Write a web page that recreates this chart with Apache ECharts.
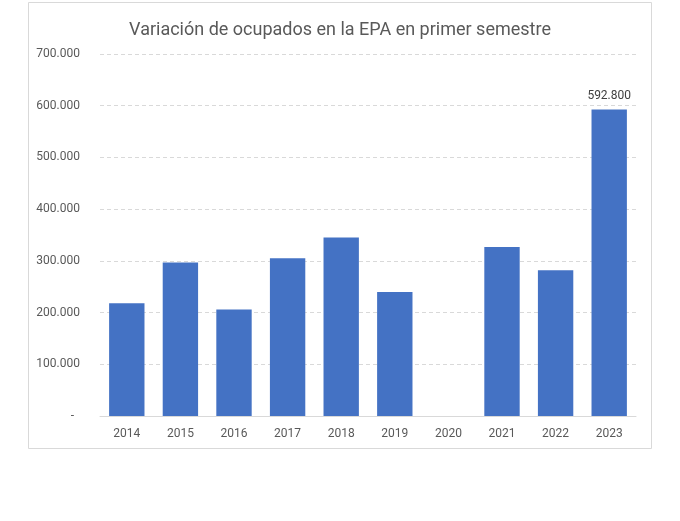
<!DOCTYPE html>
<html>
<head>
    <meta charset="utf-8">
    <title>EPA</title>
    <script src="https://cdn.jsdelivr.net/npm/echarts@6/dist/echarts.min.js"></script>
    <style>
        body { margin: 0; background: #fff; }
    </style>
</head>
<body>
    <div id="main" style="width:680px;height:521px;"></div>
    <script type="text/javascript">
var years = ['2014', '2015', '2016', '2017', '2018', '2019', '2020', '2021', '2022', '2023'];
// 2020 no aparece (fuera del eje)
var ocupados = [218000, 297000, 206000, 305000, 345000, 240000, null, 327000, 282000, 592800];
var yTicks = [0, 100000, 200000, 300000, 400000, 500000, 600000, 700000];

function fmt(v) {
    if (v === 0) return '-  ';
    return String(Math.round(v)).replace(/\B(?=(\d{3})+(?!\d))/g, '.');
}

var myChart = echarts.init(document.getElementById('main'));
var option = {
    backgroundColor: '#ffffff',
    animation: false,
    title: {
        text: 'Variación de ocupados en la EPA en primer semestre',
        left: 'center',
        top: 16,
        textStyle: {
            fontFamily: 'Roboto, sans-serif',
            fontSize: 18,
            fontWeight: 'normal',
            color: '#595959'
        }
    },
    graphic: [{
        type: 'rect',
        shape: { x: 28.5, y: 2.5, width: 623, height: 446 },
        style: { fill: 'none', stroke: '#d9d9d9', lineWidth: 1 },
        silent: true
    }],
    grid: { left: 100, right: 44, top: 54, bottom: 105 },
    xAxis: {
        type: 'category',
        data: years,
        axisTick: { show: false },
        axisLine: { lineStyle: { color: '#d9d9d9', width: 1 } },
        axisLabel: {
            color: '#595959',
            fontSize: 12,
            margin: 12,
            fontFamily: 'Roboto, sans-serif'
        }
    },
    yAxis: {
        type: 'value',
        min: yTicks[0],
        max: yTicks[yTicks.length - 1],
        interval: 100000,
        axisLine: { show: false },
        axisTick: { show: false },
        splitLine: { lineStyle: { color: '#d9d9d9', type: [4, 3] } },
        axisLabel: {
            color: '#595959',
            fontSize: 12,
            margin: 20,
            fontFamily: 'Roboto, sans-serif',
            formatter: fmt
        }
    },
    series: [{
        type: 'bar',
        data: ocupados,
        barWidth: '66%',
        itemStyle: { color: '#4472c4' },
        label: {
            show: true,
            position: 'top',
            distance: 7,
            color: '#404040',
            fontSize: 12,
            fontFamily: 'Roboto, sans-serif',
            formatter: function (p) {
                return p.dataIndex === years.length - 1 ? fmt(p.value) : '';
            }
        }
    }]
};
myChart.setOption(option);
    </script>
</body>
</html>
